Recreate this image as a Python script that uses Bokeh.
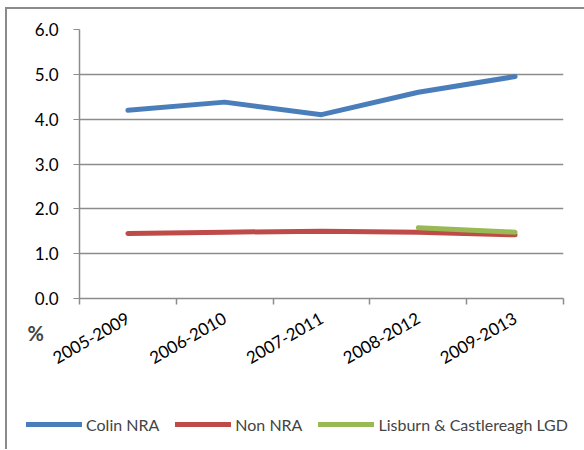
from bokeh.plotting import figure
from bokeh.layouts import column
from bokeh.models import FixedTicker, Range1d, Legend, LegendItem, Label
from bokeh.embed import file_html
from bokeh.resources import INLINE

periods = ["2005-2009", "2006-2010", "2007-2011", "2008-2012", "2009-2013"]
colin_nra = [4.2, 4.38, 4.1, 4.6, 4.95]
non_nra = [1.45, 1.48, 1.5, 1.48, 1.42]
lisburn_periods = ["2008-2012", "2009-2013"]
lisburn = [1.58, 1.48]
series_names = ["Colin NRA", "Non NRA", "Lisburn & Castlereagh LGD"]
colors = ["#4a7ebb", "#be4b48", "#98b954"]

FONT = "Lato"
GRID = "#8c8c8c"

xs = [i + 0.5 for i in range(len(periods))]
xl = [periods.index(p) + 0.5 for p in lisburn_periods]

OX, OY = 6, 8

p = figure(width=584 - OX, height=385 - OY, output_backend="svg", toolbar_location=None,
           x_range=Range1d(0, len(periods)), y_range=Range1d(0, 6),
           min_border_left=72, min_border_right=22, min_border_top=20,
           min_border_bottom=88)
p.outline_line_color = None
p.xgrid.grid_line_color = None
p.ygrid.grid_line_color = GRID
p.ygrid.grid_line_width = 1.5
p.ygrid.ticker = FixedTicker(ticks=[0, 1, 2, 3, 4, 5, 6])

p.yaxis.ticker = FixedTicker(ticks=[0, 1, 2, 3, 4, 5, 6])
p.yaxis.major_label_overrides = {i: f"{i:.1f}" for i in range(7)}
p.yaxis.axis_line_color = GRID
p.yaxis.axis_line_width = 1.5
p.yaxis.major_tick_line_color = GRID
p.yaxis.major_tick_in = 0
p.yaxis.major_tick_out = 6
p.yaxis.minor_tick_line_color = None
p.yaxis.major_label_text_font = FONT
p.yaxis.major_label_text_font_size = "17px"
p.yaxis.major_label_text_color = "black"
p.yaxis.major_label_standoff = 15

p.xaxis.ticker = FixedTicker(ticks=xs, minor_ticks=list(range(len(periods) + 1)))
p.xaxis.major_label_overrides = {x: lab for x, lab in zip(xs, periods)}
p.xaxis.axis_line_color = GRID
p.xaxis.axis_line_width = 1.5
p.xaxis.major_tick_line_color = None
p.xaxis.minor_tick_line_color = GRID
p.xaxis.minor_tick_line_width = 1.5
p.xaxis.minor_tick_in = 0
p.xaxis.minor_tick_out = 6
p.xaxis.major_label_orientation = 0.52
p.xaxis.major_label_text_font = FONT
p.xaxis.major_label_text_font_size = "17px"
p.xaxis.major_label_text_color = "black"
p.xaxis.major_label_standoff = 12

p.line(xs, colin_nra, line_color=colors[0], line_width=5, line_cap="round")
p.line(xs, non_nra, line_color=colors[1], line_width=5, line_cap="round")
p.line(xl, lisburn, line_color=colors[2], line_width=5, line_cap="round")

p.add_layout(Label(x=12, y=-46, x_units="screen", y_units="screen", text="%",
                   text_font=FONT, text_font_style="bold", text_font_size="20px"), "left")

# legend strip
lg = figure(width=584 - OX, height=448 - 385, output_backend="svg", toolbar_location=None,
            x_range=Range1d(0, 1), y_range=Range1d(0, 1),
            x_axis_type=None, y_axis_type=None,
            min_border_left=0, min_border_right=0, min_border_top=0, min_border_bottom=0)
lg.outline_line_color = None
lg.xgrid.grid_line_color = None
lg.ygrid.grid_line_color = None
items = []
for name, c in zip(series_names, colors):
    r = lg.line([-5, -4], [-5, -5], line_color=c, line_width=5, line_cap="round")
    items.append(LegendItem(label=name, renderers=[r]))
legend = Legend(items=items, orientation="horizontal", location=(25 - OX, 15),
                glyph_width=56, glyph_height=20, label_standoff=4, spacing=16,
                padding=0, margin=0, border_line_color=None,
                background_fill_alpha=0, label_text_font=FONT,
                label_text_font_size="16px", label_height=20)
lg.add_layout(legend, "center")

layout = column(p, column(lg), spacing=0,
                styles={"margin-left": f"{OX - 1}px", "margin-top": f"{OY - 1}px",
                        "border-left": "2px solid #8a8a8a", "border-top": "2px solid #8a8a8a"})

open("out.html", "w").write(file_html(layout, INLINE))
